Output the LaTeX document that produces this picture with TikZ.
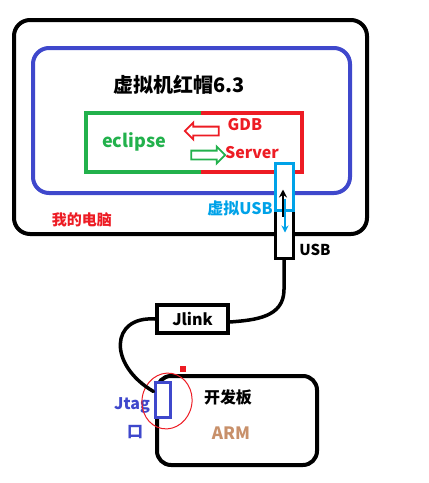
\documentclass[tikz,border=0pt]{standalone}
\usepackage{fontspec}
\usepackage{xcolor}
\usepackage{tikz}
\usetikzlibrary{positioning, arrows.meta, shapes.arrows}
\setmainfont{Noto Sans CJK SC}
\definecolor{PaintRed}{HTML}{ED1C24}
\definecolor{PaintGreen}{HTML}{22B14C}
\definecolor{PaintBlue}{HTML}{3F48CC}
\definecolor{PaintCyan}{HTML}{00A2E8}
\definecolor{ArmTan}{HTML}{C8906A}

\begin{document}
\begin{tikzpicture}[
            x=1pt, y=-1pt,
            frame/.style={draw, line width=4pt, rounded corners=16pt, inner sep=0pt},
            plug/.style={draw, line width=3pt, fill=white, inner sep=0pt, minimum width=18pt},
            hollow/.style={single arrow, draw, line width=1.8pt, fill=white, inner sep=3.5pt, minimum height=34pt, single arrow head extend=4pt},
            cable/.style={line width=3.5pt, line cap=round},
            lbl/.style={font=\bfseries\fontsize{15pt}{17pt}\selectfont, inner sep=0pt}
        ]
            \useasboundingbox (0,0) rectangle (429,483);

            % my computer and the virtual machine
            \node[frame, minimum width=353pt, minimum height=214pt] (pc) at (190.5,127) {};
            \node[frame, draw=PaintBlue, minimum width=317pt, minimum height=145pt] (vm) at (191.5,120.5) {};
            \node[lbl, font=\bfseries\fontsize{20pt}{22pt}\selectfont] (title) at (179,85) {虚拟机红帽6.3};
            \node[lbl, text=PaintRed, font=\bfseries\fontsize{15pt}{17pt}\selectfont] (mypc) at (82,220) {我的电脑};

            % eclipse and gdb server
            \node[minimum width=216pt, minimum height=59pt, inner sep=0pt] (dbg) at (194,142.5) {};
            \draw[PaintGreen, line width=3.5pt] ([xshift=7pt]dbg.north) -| (dbg.south west) -- ([xshift=7pt]dbg.south);
            \draw[PaintRed, line width=3.5pt] ([xshift=7pt]dbg.north) -| (dbg.south east) -- ([xshift=7pt]dbg.south);
            \node[lbl, text=PaintGreen, font=\bfseries\fontsize{18pt}{20pt}\selectfont] (eclipse) at (134,142) {eclipse};
            \node[lbl, text=PaintRed, font=\bfseries\fontsize{16pt}{18pt}\selectfont] (gdb) at (245,125) {GDB};
            \node[lbl, text=PaintRed, font=\bfseries\fontsize{16pt}{18pt}\selectfont] (server) at (252,153) {Server};
            \node[hollow, draw=PaintRed, shape border rotate=180] (back) at (204,131) {};
            \node[hollow, draw=PaintGreen] (forth) at (206,155) {};

            % usb plug
            \node[lbl, text=PaintCyan, font=\bfseries\fontsize{16pt}{18pt}\selectfont] (vusblbl) at (240,208) {虚拟USB};
            \node[plug, minimum height=48pt] (usb) at (284,234) {};
            \node[plug, draw=PaintCyan, minimum height=47pt] (vusb) at (284,186.5) {};
            \draw[-{Stealth[length=8pt, width=8pt]}, line width=2pt] ([xshift=-1pt, yshift=-30pt]vusb.center) -- ([xshift=-1pt, yshift=-3pt]vusb.center);
            \draw[-{Stealth[length=7pt, width=7pt]}, line width=1.5pt, PaintCyan] ([xshift=1pt, yshift=-12pt]vusb.center) -- ([xshift=1pt, yshift=-46pt]vusb.center);
            \node[lbl, font=\bfseries\fontsize{15pt}{17pt}\selectfont] (usblbl) at (315,250) {USB};

            % jlink and board
            \node[draw, line width=4pt, minimum width=71pt, minimum height=28pt, inner sep=0pt, font=\bfseries\fontsize{16pt}{18pt}\selectfont] (jlink) at (192.5,319) {Jlink};
            \node[frame, rounded corners=14pt, minimum width=160pt, minimum height=89pt] (board) at (237,420.5) {};
            \node[lbl, font=\bfseries\fontsize{16pt}{18pt}\selectfont] (boardlbl) at (228,397) {开发板};
            \node[lbl, text=ArmTan, font=\bfseries\fontsize{17pt}{19pt}\selectfont] (arm) at (231,433) {ARM};
            \node[plug, draw=PaintBlue, minimum width=15pt, minimum height=35pt] (jtag) at (162.5,399.5) {};
            \node[lbl, text=PaintBlue, font=\bfseries\fontsize{16pt}{18pt}\selectfont] (jtaglbl) at (132,405) {Jtag};
            \node[lbl, text=PaintBlue, font=\bfseries\fontsize{16pt}{18pt}\selectfont] (kou) at (135,432) {口};
            \draw[PaintRed, line width=1pt, rotate around={-10:(167,401)}] (167,401) ellipse [x radius=25pt, y radius=28pt];
            \fill[PaintRed] (180,366) rectangle (186,372);

            % cables
            \draw[cable] (usb.south) -- ++(0,30) .. controls +(0,28) and +(25,-2) .. ([yshift=-3pt]jlink.east);
            \draw[cable] (jlink.west) .. controls (110,316) and (108,365) .. ([yshift=8pt]jtag.west);
        \end{tikzpicture}
\end{document}
